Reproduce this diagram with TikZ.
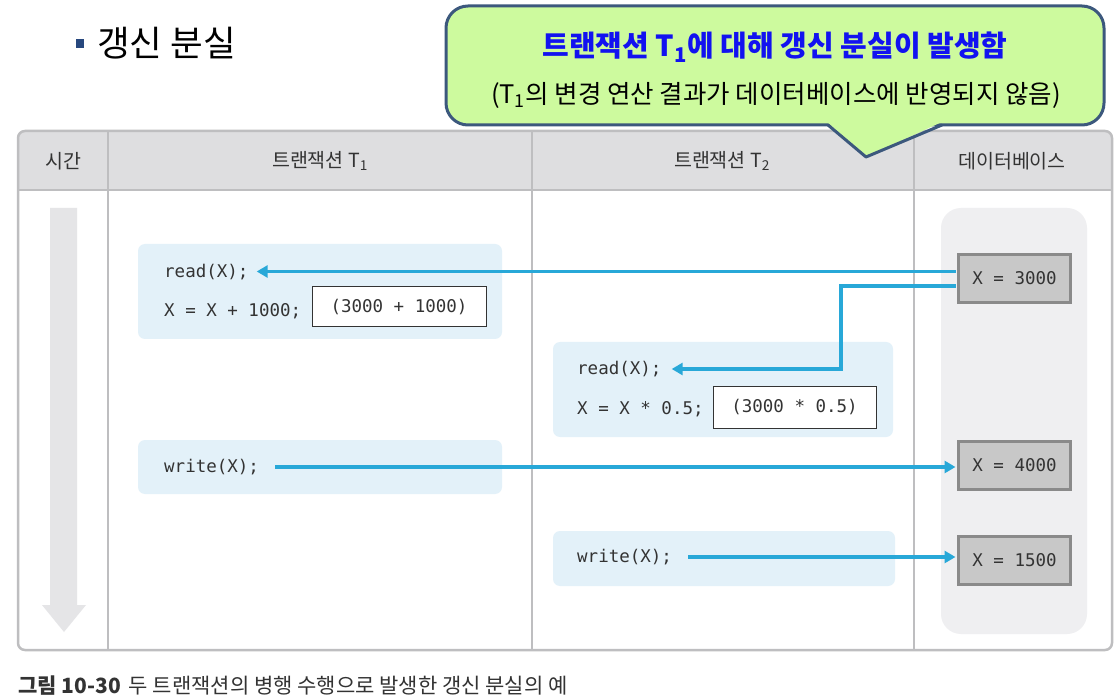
\documentclass[tikz,border=0pt]{standalone}
\usepackage{fontspec}
\setmainfont{Noto Sans CJK KR}
\setmonofont{DejaVu Sans Mono}
\usetikzlibrary{arrows.meta,calc}
\definecolor{hdrgray}{RGB}{222,222,224}
\definecolor{linegray}{RGB}{190,190,192}
\definecolor{codebg}{RGB}{227,241,249}
\definecolor{dbbg}{RGB}{239,239,241}
\definecolor{dbbox}{RGB}{200,200,200}
\definecolor{dbborder}{RGB}{138,138,138}
\definecolor{arrblue}{RGB}{40,168,216}
\definecolor{timegray}{RGB}{229,229,231}
\definecolor{calloutfill}{RGB}{205,250,158}
\definecolor{calloutline}{RGB}{60,88,125}
\definecolor{blueText}{RGB}{18,18,240}
\definecolor{txt}{RGB}{51,51,51}
\definecolor{bulletc}{RGB}{40,72,126}
\tikzset{
  hdr/.style={font=\fontsize{19.5}{22}\selectfont, text=txt},
  code/.style={font=\ttfamily\fontsize{17.5}{21}\selectfont, text=txt, anchor=west, inner sep=0pt},
  codebox/.style={fill=codebg, rounded corners=7pt},
  valbox/.style={draw=txt, fill=white, line width=1pt, font=\ttfamily\fontsize{17.5}{21}\selectfont, text=txt, inner sep=0pt},
  dbval/.style={draw=dbborder, fill=dbbox, line width=3pt, minimum width=112pt, minimum height=48pt, font=\ttfamily\fontsize{17.5}{21}\selectfont, text=txt, inner sep=0pt},
  arr/.style={draw=arrblue, line width=3.5pt, -{Triangle[length=11pt,width=12pt]}},
  sepline/.style={draw=linegray, line width=2.5pt}
}
\begin{document}
\begin{tikzpicture}[x=1pt,y=-1pt]
\useasboundingbox (0,0) rectangle (1119,700);
\fill[white] (0,0) rectangle (1119,700);

% title
\fill[bulletc] (76,39) rectangle (84,48);
\node[anchor=west, inner sep=0pt, font=\fontsize{35.5}{40}\selectfont, text=black] (title) at (97,43) {갱신 분실};

% table
\fill[white, rounded corners=7pt] (18,131) rectangle (1112,650);
\begin{scope}
\clip[rounded corners=7pt] (18,131) rectangle (1112,650);
\fill[hdrgray] (18,131) rectangle (1112,190);
\end{scope}
\draw[sepline] (18,190) -- (1112,190);
\draw[sepline] (108,131) -- (108,650);
\draw[sepline] (532,131) -- (532,650);
\draw[sepline] (914,131) -- (914,650);
\draw[sepline, rounded corners=7pt] (18,131) rectangle (1112,650);

\node[hdr] (h0) at (63,161) {시간};
\node[hdr] (h1) at (320,161) {트랜잭션 T\textsubscript{1}};
\node[hdr] (h2) at (722,161) {트랜잭션 T\textsubscript{2}};
\node[hdr] (h3) at (1012,161) {데이터베이스};

% time arrow
\fill[timegray] (50,208) -- (77,208) -- (77,605) -- (86,605) -- (64,632) -- (42,605) -- (50,605) -- cycle;

% database column
\fill[dbbg, rounded corners=20pt] (941,208) rectangle (1087,634);

% code boxes
\fill[codebox] (138,244) rectangle (502,339);
\fill[codebox] (553,342) rectangle (893,437);
\fill[codebox] (138,440) rectangle (502,494);
\fill[codebox] (553,531) rectangle (895,586);

\node[code] (read1) at (164,272) {read(X);};
\node[code] (calc1) at (164,311) {X = X + 1000;};
\node[valbox, minimum width=174pt, minimum height=40pt] (val1) at (399,307) {(3000 + 1000)};

\node[code] (read2) at (577,369) {read(X);};
\node[code] (calc2) at (577,409) {X = X * 0.5;};
\node[valbox, minimum width=163pt, minimum height=41pt] (val2) at (794.5,407.5) {(3000 * 0.5)};

\node[code] (write1) at (164,467) {write(X);};
\node[code] (write2) at (577,557) {write(X);};

\node[dbval] (db1) at (1014.5,278.5) {X = 3000};
\node[dbval] (db2) at (1014.5,465.5) {X = 4000};
\node[dbval] (db3) at (1014.5,560.5) {X = 1500};

% connectors
\coordinate (bend2) at (841,369);
\draw[arr] ([xshift=-1.5pt,yshift=7pt]db1.west) -- ([xshift=8pt,yshift=7pt]db1.west -| read1.east);
\draw[arr] ([xshift=-1.5pt,yshift=-7.5pt]db1.west) -| (bend2) -- ([xshift=10pt]read2.east |- bend2);
\draw[arr] ([xshift=16pt]write1.east) -- ([xshift=-1.5pt]db2.west |- write1.east);
\draw[arr] ([xshift=16pt]write2.east) -- ([xshift=-1.5pt]db3.west |- write2.east);

% callout
\fill[calloutfill, rounded corners=22pt] (446,6) rectangle (1104,125);
\draw[calloutline, line width=3pt, rounded corners=22pt] (446,6) rectangle (1104,125);
\fill[calloutfill] (826,121) -- (944,121) -- (866,157) -- cycle;
\draw[calloutline, line width=3pt, line join=round] (828,125) -- (866,157) -- (942,125);
\node[font=\bfseries\fontsize{29}{34}\selectfont, text=blueText] (c1) at (775,47) {트랜잭션 T\textsubscript{1}에 대해 갱신 분실이 발생함};
\node[font=\fontsize{25.5}{30}\selectfont, text=black] (c2) at (776,95) {(T\textsubscript{1}의 변경 연산 결과가 데이터베이스에 반영되지 않음)};

% caption
\node[anchor=west, inner sep=0pt, font=\fontsize{21}{25}\selectfont, text=txt] (cap) at (18,686) {{\bfseries 그림 10-30}\hspace{8pt}두 트랜잭션의 병행 수행으로 발생한 갱신 분실의 예};
\end{tikzpicture}
\end{document}
